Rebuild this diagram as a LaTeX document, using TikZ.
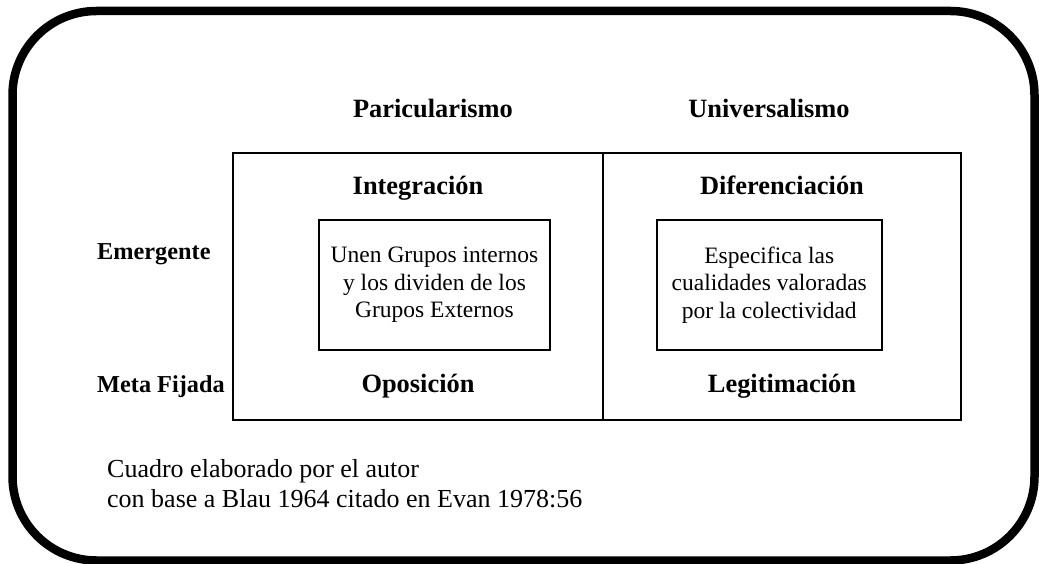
\documentclass[tikz,border=0pt]{standalone}
\usepackage{fontspec}
\setmainfont{Liberation Serif}
\begin{document}
\begin{tikzpicture}[x=1pt,y=-1pt,
  boldlabel/.style={inner sep=0pt,font=\fontsize{26.4}{30}\selectfont\bfseries},
  rowlabel/.style={inner sep=0pt,font=\fontsize{24.3}{28}\selectfont\bfseries},
  innerbox/.style={draw,line width=2pt,inner sep=0pt,align=center,
    font=\fontsize{23.5}{27.5}\selectfont},
  captiontext/.style={inner sep=0pt,align=left,font=\fontsize{26}{30}\selectfont},
  gridline/.style={line width=2pt}]
\useasboundingbox (0,0) rectangle (1039,564);
% outer rounded frame
\draw[line width=8.5pt,rounded corners=84pt] (12.5,11) rectangle (1034.5,560.5);
% grid
\coordinate (gtl) at (232.5,153);
\coordinate (gbr) at (961,419.5);
\coordinate (gmt) at (603,153);
\coordinate (gmb) at (603,419.5);
\draw[gridline] (gtl) rectangle (gbr);
\draw[gridline] (gmt) -- (gmb);
% column headers
\node[boldlabel,anchor=base] (part) at (433,118) {Paricularismo};
\node[boldlabel,anchor=base] (univ) at (769,118) {Universalismo};
% row headers
\node[rowlabel,anchor=base west] (emer) at (97,259) {Emergente};
\node[rowlabel,anchor=base west] (meta) at (97,392) {Meta Fijada};
% cell labels
\node[boldlabel,anchor=base] (integ) at (418,195) {Integración};
\node[boldlabel,anchor=base] (difer) at (782,195) {Diferenciación};
\node[boldlabel,anchor=base] (opos) at (418,392.5) {Oposición};
\node[boldlabel,anchor=base] (legit) at (782,392.5) {Legitimación};
% inner boxes
\node[innerbox,minimum width=231pt,minimum height=129.5pt] (boxL) at (434.5,284.75)
  {Unen Grupos internos\\y los dividen de los\\Grupos Externos};
\node[innerbox,minimum width=224.5pt,minimum height=129.5pt] (boxR) at (769.25,284.75)
  {Especifica las\\cualidades valoradas\\por la colectividad};
% caption
\node[captiontext,anchor=north west] (cap) at (107,459)
  {Cuadro elaborado por el autor\\con base a Blau 1964 citado en Evan 1978:56};
\end{tikzpicture}
\end{document}
